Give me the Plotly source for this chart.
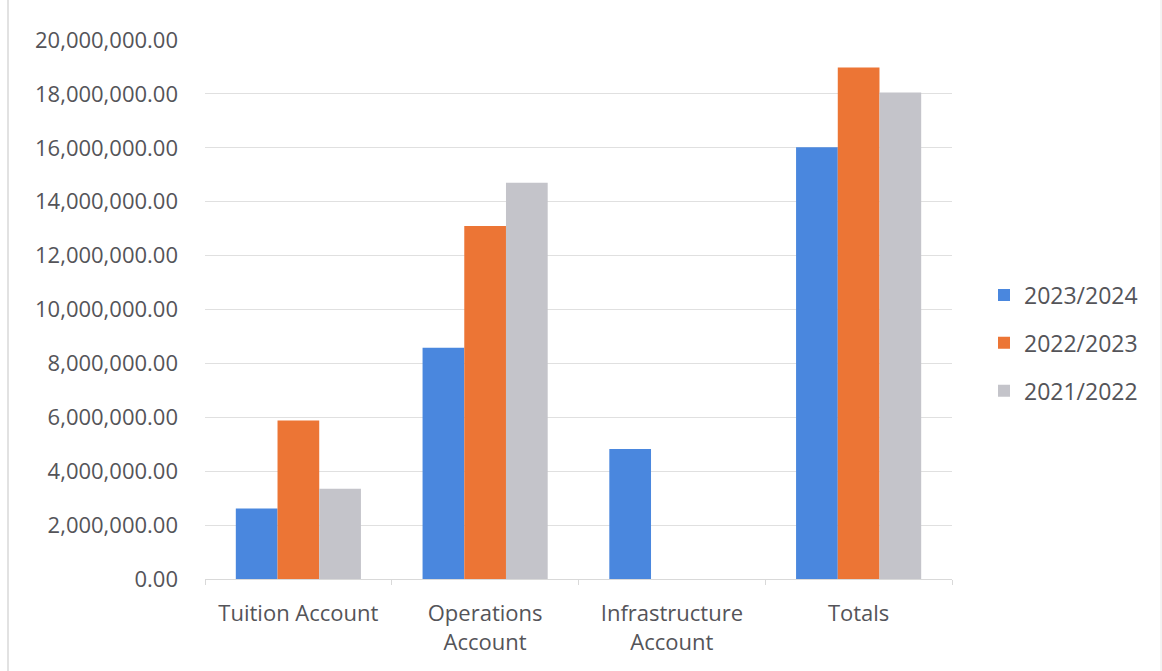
import plotly.graph_objects as go

# Account balances by school year
categories = ["Tuition Account", "Operations<br>Account", "Infrastructure<br>Account", "Totals"]
series_names = ["2023/2024", "2022/2023", "2021/2022"]
values_2023_2024 = [2620000, 8580000, 4820000, 16020000]
values_2022_2023 = [5880000, 13100000, 0, 18980000]
values_2021_2022 = [3350000, 14700000, 0, 18050000]
y_ticks = [0, 2000000, 4000000, 6000000, 8000000, 10000000, 12000000, 14000000, 16000000, 18000000, 20000000]

colors = ["#4a87de", "#ec7535", "#c4c4ca"]
text_color = "#545459"
font_family = "'Open Sans', sans-serif"

fig = go.Figure()
for name, vals, col in zip(series_names, [values_2023_2024, values_2022_2023, values_2021_2022], colors):
    fig.add_trace(go.Bar(
        x=categories, y=vals, name=name, legendgroup=name,
        marker=dict(color=col, line=dict(width=0)),
    ))

W, H = 1162, 671
ml, mr, mt, mb = 205, 210, 40, 92
pw = W - ml - mr
ph = H - mt - mb

fig.update_layout(
    width=W, height=H,
    margin=dict(l=ml, r=mr, t=mt, b=mb),
    paper_bgcolor="white", plot_bgcolor="white",
    barmode="group", bargap=0.33, bargroupgap=0,
    font=dict(family=font_family, color=text_color, size=22),
    showlegend=True,
    legend=dict(
        x=(984 - ml) / pw, xanchor="left",
        y=(H - mb - 343) / ph, yanchor="middle",
        font=dict(size=23, color=text_color),
        traceorder="grouped", tracegroupgap=15, itemwidth=30,
        bgcolor="rgba(0,0,0,0)",
    ),
    xaxis=dict(
        type="category",
        showgrid=False,
        showline=True, linecolor="#d9d9d9", linewidth=1,
        ticks="outside", tickson="boundaries", ticklen=5, tickcolor="#d9d9d9",
        ticklabelstandoff=15,
        tickfont=dict(size=22, color=text_color),
        fixedrange=True,
    ),
    yaxis=dict(
        range=[0, 20000000],
        tickvals=y_ticks,
        ticktext=[f"{v:,.2f}" for v in y_ticks],
        showgrid=True, gridcolor="#e0e0e0", gridwidth=1,
        zeroline=False, showline=False,
        ticks="", ticklabelstandoff=26,
        tickfont=dict(size=22, color=text_color),
    ),
    shapes=[
        dict(type="line", xref="paper", yref="paper",
             x0=(8 - ml) / pw, x1=(8 - ml) / pw,
             y0=-mb / ph, y1=(H - mb) / ph,
             line=dict(color="#e2e2e2", width=2)),
        dict(type="line", xref="paper", yref="paper",
             x0=(1161 - ml) / pw, x1=(1161 - ml) / pw,
             y0=-mb / ph, y1=(H - mb) / ph,
             line=dict(color="#e8e8e8", width=1)),
    ],
)

fig.write_html("out.html")
